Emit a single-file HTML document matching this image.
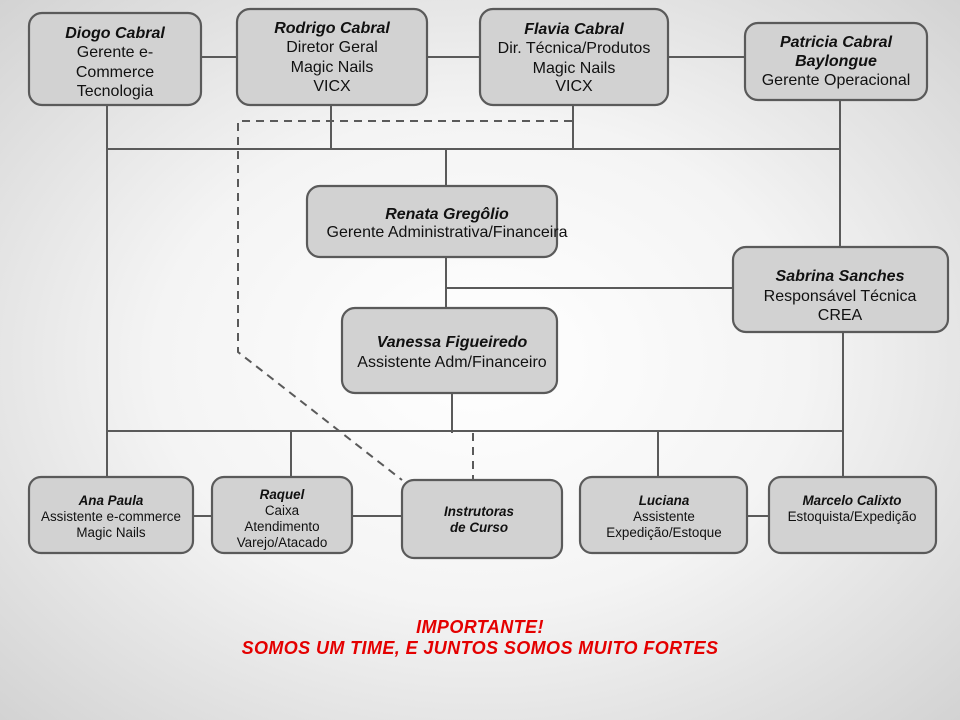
<!DOCTYPE html>
<html><head><meta charset="utf-8"><style>
html,body{margin:0;padding:0}
body{width:960px;height:720px;overflow:hidden;background:radial-gradient(ellipse 75% 75% at 50% 50%,#ffffff 0%,#f4f4f4 45%,#cfcfcf 100%)}
svg{display:block}
text{font-family:"Liberation Sans",Arial,sans-serif;fill:#111;text-anchor:middle}
.b{font-weight:bold;font-style:italic}
.l{font-size:16px}
.s{font-size:13.4px}
rect{fill:#d2d2d2;stroke:#5a5a5a;stroke-width:2.2}
line,polyline{stroke:#5a5a5a;stroke-width:2;fill:none}
.d{stroke-dasharray:8 6}
</style></head><body>
<svg width="960" height="720" viewBox="0 0 960 720">
<line x1="201" y1="57" x2="237" y2="57"/>
<line x1="427" y1="57" x2="480" y2="57"/>
<line x1="668" y1="57" x2="745" y2="57"/>
<line x1="107" y1="105" x2="107" y2="477"/>
<line x1="107" y1="149" x2="840" y2="149"/>
<line x1="331" y1="105" x2="331" y2="149"/>
<line x1="573" y1="105" x2="573" y2="149"/>
<line x1="840" y1="100" x2="840" y2="247"/>
<line x1="446" y1="149" x2="446" y2="186"/>
<line x1="446" y1="257" x2="446" y2="308"/>
<line x1="446" y1="288" x2="733" y2="288"/>
<line x1="452" y1="393" x2="452" y2="433"/>
<line x1="107" y1="431" x2="843" y2="431"/>
<line x1="843" y1="332" x2="843" y2="477"/>
<line x1="291" y1="431" x2="291" y2="477"/>
<line x1="658" y1="431" x2="658" y2="477"/>
<line x1="193" y1="516" x2="212" y2="516"/>
<line x1="352" y1="516" x2="402" y2="516"/>
<line x1="747" y1="516" x2="769" y2="516"/>
<polyline class="d" points="572,121 238,121 238,352 402,480"/>
<line class="d" x1="473" y1="433" x2="473" y2="480"/>
<rect x="29" y="13" width="172" height="92" rx="13"/>
<text class="l"><tspan x="115" y="38" class="b">Diogo Cabral</tspan><tspan x="115" y="57">Gerente e-</tspan><tspan x="115" y="77">Commerce</tspan><tspan x="115" y="96">Tecnologia</tspan></text>
<rect x="237" y="9" width="190" height="96" rx="13"/>
<text class="l"><tspan x="332" y="33" class="b">Rodrigo Cabral</tspan><tspan x="332" y="52">Diretor Geral</tspan><tspan x="332" y="72">Magic Nails</tspan><tspan x="332" y="91">VICX</tspan></text>
<rect x="480" y="9" width="188" height="96" rx="13"/>
<text class="l"><tspan x="574" y="34" class="b">Flavia Cabral</tspan><tspan x="574" y="53">Dir. Técnica/Produtos</tspan><tspan x="574" y="73">Magic Nails</tspan><tspan x="574" y="91">VICX</tspan></text>
<rect x="745" y="23" width="182" height="77" rx="13"/>
<text class="l"><tspan x="836" y="47" class="b">Patricia Cabral</tspan><tspan x="836" y="66" class="b">Baylongue</tspan><tspan x="836" y="85">Gerente Operacional</tspan></text>
<rect x="307" y="186" width="250" height="71" rx="13"/>
<text class="l"><tspan x="447" y="219" class="b">Renata Gregôlio</tspan><tspan x="447" y="237">Gerente Administrativa/Financeira</tspan></text>
<rect x="733" y="247" width="215" height="85" rx="13"/>
<text class="l"><tspan x="840" y="281" class="b">Sabrina Sanches</tspan><tspan x="840" y="301">Responsável Técnica</tspan><tspan x="840" y="320">CREA</tspan></text>
<rect x="342" y="308" width="215" height="85" rx="13"/>
<text class="l"><tspan x="452" y="347" class="b">Vanessa Figueiredo</tspan><tspan x="452" y="367">Assistente Adm/Financeiro</tspan></text>
<rect x="29" y="477" width="164" height="76" rx="12"/>
<text class="s"><tspan x="111" y="505" class="b">Ana Paula</tspan><tspan x="111" y="521">Assistente e-commerce</tspan><tspan x="111" y="537">Magic Nails</tspan></text>
<rect x="212" y="477" width="140" height="76" rx="12"/>
<text class="s"><tspan x="282" y="499" class="b">Raquel</tspan><tspan x="282" y="515">Caixa</tspan><tspan x="282" y="531">Atendimento</tspan><tspan x="282" y="547">Varejo/Atacado</tspan></text>
<rect x="402" y="480" width="160" height="78" rx="12"/>
<text class="s b"><tspan x="479" y="516">Instrutoras</tspan><tspan x="479" y="532">de Curso</tspan></text>
<rect x="580" y="477" width="167" height="76" rx="12"/>
<text class="s"><tspan x="664" y="505" class="b">Luciana</tspan><tspan x="664" y="521">Assistente</tspan><tspan x="664" y="537">Expedição/Estoque</tspan></text>
<rect x="769" y="477" width="167" height="76" rx="12"/>
<text class="s"><tspan x="852" y="505" class="b">Marcelo Calixto</tspan><tspan x="852" y="521">Estoquista/Expedição</tspan></text>
<text style="fill:#e40000;font-size:18px;font-weight:bold;font-style:italic;letter-spacing:0.4px"><tspan x="480" y="633">IMPORTANTE!</tspan><tspan x="480" y="654">SOMOS UM TIME, E JUNTOS SOMOS MUITO FORTES</tspan></text>
</svg>
</body></html>
